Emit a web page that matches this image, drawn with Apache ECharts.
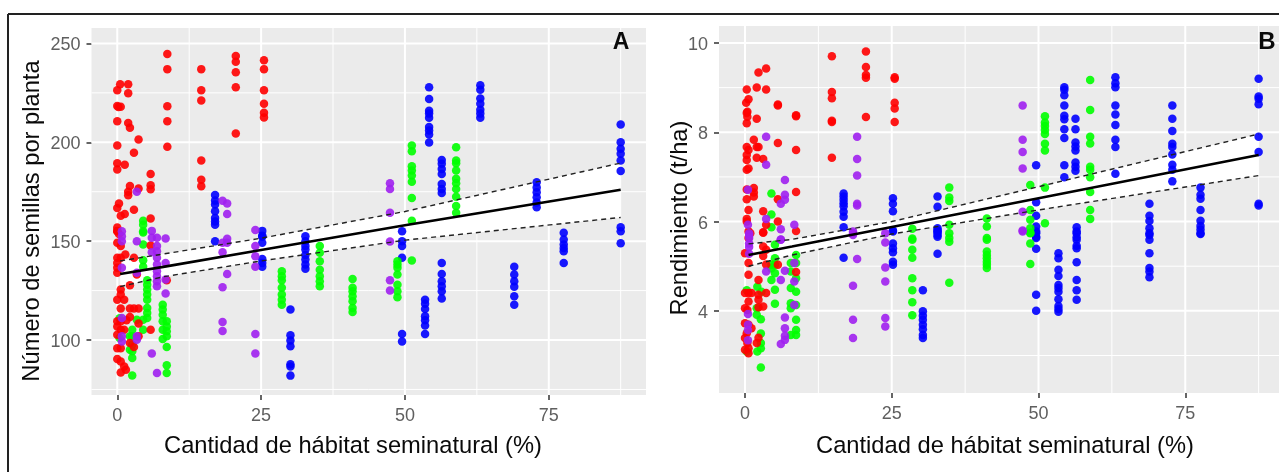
<!DOCTYPE html>
<html><head><meta charset="utf-8">
<style>html,body{margin:0;padding:0;background:#fff}#c{width:1279px;height:472px}</style>
<script src="https://cdn.jsdelivr.net/npm/echarts@6/dist/echarts.min.js"></script>
</head><body><div id="c"></div>
<script>
const xTicks=[0,25,50,75], xMinor=[12.5,37.5,62.5,87.5];
const aYTicks=[100,150,200,250], aYMinor=[75,125,175,225];
const bYTicks=[4,6,8,10], bYMinor=[3,5,7,9];
const xTitle='Cantidad de hábitat seminatural (%)';
const aYTitle='Número de semillas por planta', bYTitle='Rendimiento (t/ha)';

// Panel A: [x,[y...]]
const aBlue=[[17,[173.3,170.5,168.5,165.1,161.7,160,158.3,150]],[25.2,[155.2,152.7,152.2,149.2,141,139,137]],[30.1,[115.4,102.4,99.8,96.8,87.8,86.6,82]],[32.7,[152.5,150,147.5,145.8,143,140.7,138.2,136.1]],[49.5,[155,150,147.5,141.6,103,99.2]],[53.5,[120.4,118.4,115.7,112,110,107.3,103]],[54.2,[227.8,221.9,216,214.5,212.4,207.7,206,204,199.9]],[56.4,[191.1,189.1,186.5,184,178.9,176.4,174.4,139,133.4,129.7,127.2,124.7,121]],[63.1,[228.8,226.6,222.1,219.5,216.5,214.5,212.4]],[69,[137,133.1,129.7,126.9,122.1,117.9]],[72.9,[179.8,177.2,174.7,172.2,169.6,167.1]],[77.6,[154.2,150.8,148.3,146.6,144.9,139]],[87.5,[209,200,196.7,194.2,190.8,185.5,157,155,149]]];
const aGreen=[[2.2,[101.9,95.1]],[2.6,[105.2,101.9,97.6,94.3,90.9,82.1]],[3.4,[110.3]],[0.4,[111,101]],[4.5,[160.3,158.3,154.4,155,148.3,140.4,137,110.3,105.2]],[5.2,[130.2,128,125.5,123,120.4,116.2,113.7,111.1]],[7.9,[117.9,115.4,112.8,109.5,105.2,100.5]],[8.6,[109.5,106.9,104.4,101.9,96.5,87.2,83.3]],[28.6,[134.8,132.3,130.2,126.4,123,120.4,117.9]],[35.2,[147.5,144.1,139.9,135.6,132.3,129.7,127.2]],[40.9,[130.9,126.4,124.7,122.1,119.6,116.2,114.2]],[48.7,[139.9,138.2,136.5,133.1,128,124.7,121.6]],[51.2,[198.4,195.5,187.9,185.7,183.2,180.1,171.8,160.3,140.2]],[58.9,[197.5,190.8,189.4,185.7,181.5,179.3,176.4,172.5,167.8,164.4]]];
const aRed=[[0,[226.3,218.4,210.6,198.4,189.4,186.2,166.8,156.9,155.2,155,149.2,141.6,139,136.5,134,120.4,109.5,106.9,102.7,95.9,90.4]],[0.2,[217.9]],[0.3,[169.1,153.6]],[0.5,[229.4]],[0.6,[218,162.9,147.5,141.6,125.5,123,115.9,109.5,105.2,95.9,89.2,83.6]],[1.2,[120.4,105.2,86.6]],[1.3,[188.6,163.7]],[1.4,[143.2]],[1.5,[85]],[1.6,[110]],[1.9,[229.4,224.8,209.7,175,173.2]],[2.2,[207.4,177.9,127.7,115.9,111.7,98.5]],[2.9,[194.7,165.9,141.6,115.9,96.5]],[3.4,[133.1]],[3.7,[201.4,176.6,115.9,108.3,101.9]],[5.8,[184,178.3,176.2,161.5,147.8,105.2]],[8.6,[130.2]],[8.7,[244.6,237,218.2,210.6,197.7]],[14.6,[237,226.3,221.1,190.8,181,177.8]],[20.6,[243.7,240.7,235.4,227.8,204.5]],[25.5,[241.5,237,226.3,219.5,215,212.6]]];
const aPurple=[[0.8,[155,152.5,150,136.5,111.1,101.9,99.3]],[3.4,[175,150,134,101.9,100.2]],[6,[155.2,151.7,144.4,93.2]],[6.9,[151.7,147.5,144.9,141.6,138.2,134.8,132.3,129.7,127.2,83.3]],[8.4,[151.4,139,130.6,123.5]],[18.3,[170.4,149.2,144.4,126.7,109.1,104.6]],[19.1,[169.1,163.7,151.2,149.2,133.4]],[24,[155.7,147.5,142.4,137,103,93.2]],[47.4,[179.3,176.4,164.4,149.8,130.2,125]]];
const aFitX=[0.5,8,25,50,87.5];
const aMean=[133.4,137,145.5,158,176];
const aUpper=[140,143.5,151.5,165,189.5];
const aLower=[127,132,140,150.5,162];

// Panel B
const bBlue=[[16.8,[6.63,6.56,6.49,6.41,6.34,6.22,6.11,5.87,5.19]],[25.2,[6.52,6.4,6.23,5.8,5.78,5.51,5.4,5.31,5.1,5.03]],[30.3,[4.46,3.99,3.89,3.8,3.69,3.59,3.46,3.39]],[32.8,[6.56,6.33,5.85,5.8,5.75,5.7,5.78,5.66,5.28]],[49.6,[7.26,6.43,6.13,5.89,5.78,5.66,5.74,5.63,5.39,4.36,4]],[53.4,[5.29,5.18,4.92,4.78,4.58,4.51,4.43,4.26,4.11,4.04,3.98]],[54.4,[9.01,8.95,8.83,8.6,8.37,8.29,8.07,7.87,7.26,6.99]],[56.3,[8.3,8.07,7.77,7.68,7.59,7.32,7.23,7.14]],[56.5,[5.87,5.78,5.65,5.74,5.59,5.46,5.4,5.09,4.69,4.46,4.25]],[63.1,[9.23,9.1,9.01,8.6,8.4,8.16,7.83,7.67,7.07]],[68.9,[6.4,6.13,6.01,5.85,5.7,5.74,5.59,5.29,4.96,4.88,4.75]],[72.8,[8.6,8.3,8.03,7.74,7.67,7.5,7.27,7.16,6.9]],[77.6,[6.76,6.6,6.51,6.26,6.02,5.9,5.82,5.72,5.74]],[87.5,[9.2,8.8,8.75,8.63,7.9,7.56,6.4,6.36]]];
const bGreen=[[0.3,[4.46,3.09]],[2,[4.06,3.91]],[2.1,[4.54,3.09]],[2.7,[3.81,3.49,3.28,3.16,2.73]],[2.8,[4.43]],[4.5,[6.63,6.16,5.87,4.69,4.95,5.03]],[5.1,[5.48,5.18,5.03,4.84,4.47,4.16]],[7.8,[5.07,4.88,4.51,4.17,4.06,3.46]],[8.7,[5.25,5.07,4.73,4.43,4.13,3.8,3.57,3.46]],[28.5,[5.84,5.62,5.59,5.37,5.19,4.73,4.46,4.19,3.9]],[34.8,[6.76,6.54,6.46,5.93,5.74,5.63,5.55,4.63]],[41.2,[6.07,5.89,5.63,5.59,5.33,5.25,5.18,5.1,5.03,4.96]],[48.6,[6.82,6.26,6.04,5.85,5.74,5.75,5.51,5.05]],[51.1,[8.36,8.22,8.14,8.05,7.96,7.74,7.59,6.76,5.96]],[58.8,[9.17,8.5,7.9,7.75,7.23,7.16,6.99,6.66,6.26,6.06]]];
const bRed=[[0,[5.29,4.4,4.06,3.72,3.39,3.13]],[0.2,[8.66]],[0.3,[8.96,8.43,8.2,7.67,7.49,7.38,7.16,6.72,6.5,6.06,6,3.5]],[0.4,[8.46,8.35,4.02,3.28]],[0.6,[8.74,7.6,7.19,6.26,5.78,5.63,5.07,4.81,4.4,4.21,3.69,3.16,3.05]],[0.9,[5.74]],[1.1,[4.4,3.61]],[1.5,[7.83,6.75,6.65,6.56]],[2,[9,8.3,7.67,7.43,3.28]],[2.3,[9.34,7.67,4.69,4.36,4.25,4.08,3.4]],[3.1,[7.4,6.23,5.76,5.75,5.44,5.23,4.1]],[3.6,[9.43,8.96,5.93,5.37,5.04,4.4]],[5.6,[8.62,8.6,7.76,6.5,6,5.03]],[8.7,[8.38,8.36,7.6,6.66,5.79,4.87]],[14.8,[9.7,8.9,8.76,8.26,8.23,7.43]],[20.6,[9.81,9.46,9.28,9.22,8.34]],[25.5,[9.23,9.2,8.66,8.53,8.23]]];
const bPurple=[[0.5,[6.71,5.93,3.93,3.69,3.57,3.34]],[0.7,[5.74,5.7,5.63,5.51,5.43,5.28]],[3.6,[7.9,7.27,6.06,4.88]],[6.1,[6.4,5.83,5.6,5.59,4.69,3.26]],[6.8,[6.93,6.6,6.49,4.9,3.85,3.61,3.44,3.35]],[8.4,[5.93,5.07,4.66,4.13]],[18.4,[5.78,5.74,5.7,4.56,3.8,3.39]],[19.1,[7.9,7.4,7.03,6.4,6.36,5.16]],[23.9,[5.74,5.53,4.97,4.66,3.84,3.65]],[47.3,[8.6,7.83,7.56,7.19,6.22,5.8,5.78]]];
const bFitX=[0.6,8,25,50,87.5];
const bMean=[5.25,5.44,5.88,6.52,7.49];
const bUpper=[5.5,5.6,6,6.78,7.96];
const bLower=[5,5.25,5.72,6.26,7.03];

const flat=c=>c.flatMap(([x,ys])=>ys.map(y=>[x,y]));
const colors={blue:'#0000ff',green:'#00ff00',red:'#ff0000',purple:'#a020f0'};
const GRIDBG='#ebebeb', TICKTXT='#5f5f5f';

function panel(i,ext,yT,yM,pts,fx,mean,up,lo){
  const gl=(vals,vert,w,name)=>({type:'custom',name,xAxisIndex:i,yAxisIndex:i,silent:true,z:1,clip:true,
    data:vals.map(v=>[v]),encode:{x:vert?0:-1,y:vert?-1:0},
    renderItem(p,api){const c=p.coordSys,v=api.value(0);
      const q=vert?api.coord([v,ext[2]]):api.coord([ext[0],v]);
      const shape=vert?{x1:q[0],y1:c.y,x2:q[0],y2:c.y+c.height}:{x1:c.x,y1:q[1],x2:c.x+c.width,y2:q[1]};
      return {type:'line',shape,style:{stroke:'#fff',lineWidth:w}};}});
  const ribbon={type:'custom',xAxisIndex:i,yAxisIndex:i,silent:true,z:2,data:[[fx[0],lo[0]]],
    encode:{x:0,y:1},
    renderItem(p,api){const pp=[];fx.forEach((x,k)=>pp.push(api.coord([x,up[k]])));
      for(let k=fx.length-1;k>=0;k--)pp.push(api.coord([fx[k],lo[k]]));
      return {type:'polygon',shape:{points:pp},style:{fill:'#fff'}};}};
  const sc=(d,c,z)=>({type:'scatter',xAxisIndex:i,yAxisIndex:i,data:flat(d),symbol:'circle',symbolSize:8.5,z,silent:true,itemStyle:{color:c,opacity:.9}});
  const ln=(y,w,t,c)=>({type:'line',xAxisIndex:i,yAxisIndex:i,data:fx.map((x,k)=>[x,y[k]]),smooth:false,showSymbol:false,silent:true,z:8,lineStyle:{color:c,width:w,type:t}});
  return [gl(yM,false,1,'minorY'),gl(xMinor,true,1,'minorX'),gl(yT,false,2,'majorY'),gl(xTicks,true,2,'majorX'),ribbon,
    sc(pts[0],colors.blue,3),sc(pts[1],colors.green,4),sc(pts[2],colors.red,5),sc(pts[3],colors.purple,6),
    ln(up,1.4,[5,4],'#222'),ln(lo,1.4,[5,4],'#222'),ln(mean,2.6,'solid','#000')];
}
const hiddenLine={show:false,onZero:false};
const axX=(i,e)=>({type:'value',gridIndex:i,position:'bottom',min:e[0],max:e[1],splitLine:{show:false},axisLine:hiddenLine,
  axisTick:{show:true,length:5,lineStyle:{color:'#333',width:1.5},customValues:xTicks},
  axisLabel:{customValues:xTicks,color:TICKTXT,fontSize:18,fontFamily:'Liberation Sans',margin:12}});
const axY=(i,e,t)=>({type:'value',gridIndex:i,position:'left',min:e[2],max:e[3],splitLine:{show:false},axisLine:hiddenLine,
  axisTick:{show:true,length:5,lineStyle:{color:'#333',width:1.5},customValues:t},
  axisLabel:{customValues:t,color:TICKTXT,fontSize:18,fontFamily:'Liberation Sans',margin:11,
    formatter:v=>'{n|'+v+'}',rich:{n:{color:TICKTXT,fontSize:18,fontFamily:'Liberation Sans',padding:[4,0,0,0]}}}});
const aExt=[-4.48,91.9,72.2,257.8], bExt=[-4.43,90.97,2.16,10.38];
const txt=(x,y,s,size,o={})=>({type:'text',x,y,rotation:o.rot||0,silent:true,z:20,style:{text:s,fontSize:size,fontFamily:'Liberation Sans',fontWeight:o.w||'normal',fill:'#0a0a0a',align:'center',verticalAlign:'middle'}});
const edge=(a,b,c,d)=>({type:'line',silent:true,shape:{x1:a,y1:b,x2:c,y2:d},style:{stroke:'#222',lineWidth:2}});
const chart=echarts.init(document.getElementById('c'),null,{renderer:'canvas'});
chart.setOption({animation:false,backgroundColor:'#fff',
 grid:[{show:true,backgroundColor:GRIDBG,borderWidth:0,left:91.5,top:28,width:554.5,height:367},
       {show:true,backgroundColor:GRIDBG,borderWidth:0,left:719,top:26,width:560,height:367}],
 xAxis:[axX(0,aExt),axX(1,bExt)],
 yAxis:[axY(0,aExt,aYTicks),axY(1,bExt,bYTicks)],
 series:[...panel(0,aExt,aYTicks,aYMinor,[aBlue,aGreen,aRed,aPurple],aFitX,aMean,aUpper,aLower),
         ...panel(1,bExt,bYTicks,bYMinor,[bBlue,bGreen,bRed,bPurple],bFitX,bMean,bUpper,bLower)],
 graphic:[edge(8,14,1279,14),edge(8,14,8,472),
  txt(353,446,xTitle,23.7),txt(1005,446,xTitle,23.7),
  txt(32,221,aYTitle,23.7,{rot:Math.PI/2}),txt(680,218,bYTitle,23.7,{rot:Math.PI/2}),
  txt(621,43,'A',23,{w:'bold'}),txt(1267,42,'B',24,{w:'bold'})]
});
</script></body></html>
